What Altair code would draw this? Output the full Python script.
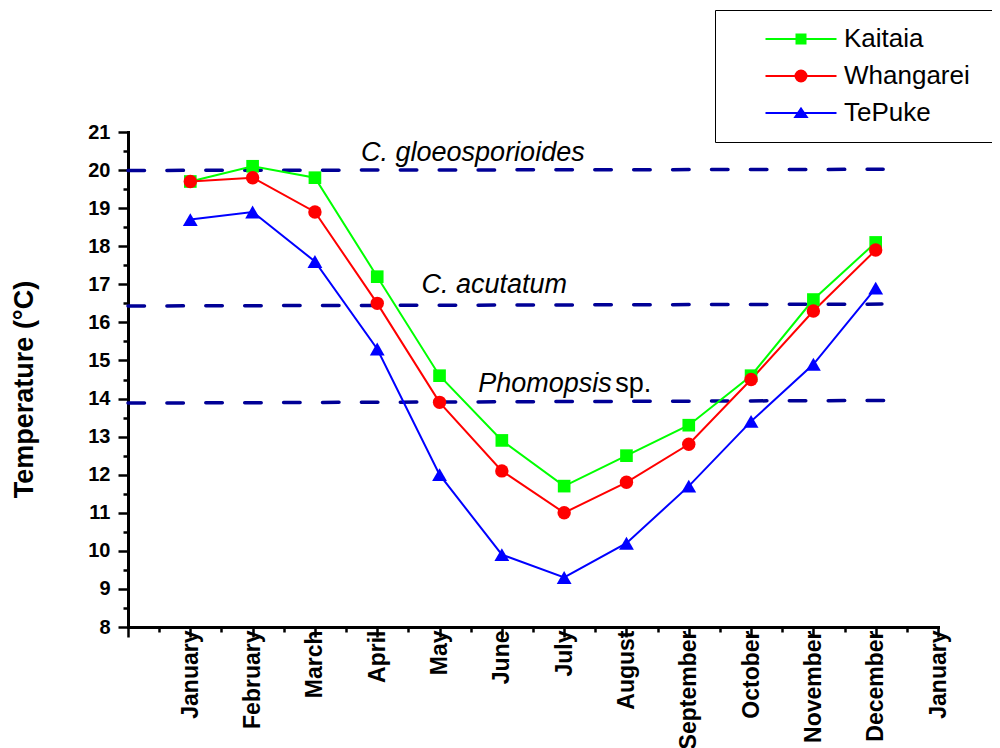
import altair as alt
import pandas as pd

# ---------------- data ----------------
months = ["January", "February", "March", "April", "May", "June", "July",
          "August", "September", "October", "November", "December"]
month_index = [1, 2, 3, 4, 5, 6, 7, 8, 9, 10, 11, 12]

kaitaia = [19.7, 20.1, 19.8, 17.2, 14.6, 12.9, 11.7, 12.5, 13.3, 14.6, 16.6, 18.1]
whangarei = [19.7, 19.8, 18.9, 16.5, 13.9, 12.1, 11.0, 11.8, 12.8, 14.5, 16.3, 17.9]
tepuke = [18.7, 18.9, 17.6, 15.3, 12.0, 9.9, 9.3, 10.2, 11.7, 13.4, 14.9, 16.9]

series_names = ["Kaitaia", "Whangarei", "TePuke"]
series_colors = ["#00FF00", "#FF0000", "#0000FF"]
series_shapes = ["square", "circle", "triangle-up"]
series_sizes = [160, 180, 220]

# pathogen temperature thresholds (dashed lines)
thr_start_x = [0, 0, 0]
thr_end_x = [12.12, 12.1, 12.15]
thr_start_y = [19.99, 16.43, 13.88]
thr_end_y = [20.02, 16.48, 13.95]

# annotations
italic_labels = ["C. gloeosporioides", "C. acutatum", "Phomopsis"]
italic_x = [3.74, 4.71, 5.62]
italic_y = [20.25, 16.78, 14.18]
plain_labels = ["sp."]
plain_x = [7.82]
plain_y = [14.18]

# ---------------- tables ----------------
rows = []
for name, vals in zip(series_names, [kaitaia, whangarei, tepuke]):
    for m, v in zip(month_index, vals):
        rows.append({"x": m, "y": v, "series": name})
df = pd.DataFrame(rows)

thr_df = pd.DataFrame({"x": thr_start_x, "x2": thr_end_x,
                       "y": thr_start_y, "y2": thr_end_y})
ital_df = pd.DataFrame({"x": italic_x, "y": italic_y, "text": italic_labels})
plain_df = pd.DataFrame({"x": plain_x, "y": plain_y, "text": plain_labels})
legend_df = pd.DataFrame({"series": series_names})

FONT = "Liberation Sans"

month_js = "[" + ",".join("'" + m + "'" for m in months) + "]"
x_label_expr = ("(datum.value % 1 === 0 && datum.value > 0) ? " + month_js
                + "[(datum.value - 1) % 12] : ''")
x_axis = alt.Axis(
    title=None,
    values=[0.5 * i for i in range(27)],
    labelExpr=x_label_expr,
    labelAngle=-90, labelAlign="right", labelBaseline="middle",
    labelPadding=-7, labelFont=FONT, labelFontSize=23, labelFontWeight="bold",
    labelColor="black", labelFlush=False, labelOverlap=False,
    tickSize={"expr": "datum.value % 1 === 0 ? 10 : 5"},
    tickWidth=2.5, tickColor="black",
    domainWidth=3, domainColor="black", domainCap="square",
    grid=False,
)
y_axis = alt.Axis(
    title="Temperature (°C)",
    values=[8 + 0.5 * i for i in range(27)],
    format=".0f",
    labelExpr="datum.value % 1 === 0 ? datum.label : ''",
    labelPadding=8, labelFont=FONT, labelFontSize=20, labelFontWeight="bold",
    labelColor="black", labelFlush=False, labelOverlap=False,
    tickSize={"expr": "datum.value % 1 === 0 ? 10 : 5"},
    tickWidth=2.5, tickColor="black",
    domainWidth=3, domainColor="black", domainCap="square",
    grid=False,
    titleFont=FONT, titleFontSize=27, titleFontWeight="bold", titleColor="black",
    titleAngle=270, titleBaseline="alphabetic", titleAlign="center",
    titleX=-96, titleY=257,
)

X = alt.X("x:Q", scale=alt.Scale(domain=[0, 13], nice=False, zero=False), axis=x_axis)
Y = alt.Y("y:Q", scale=alt.Scale(domain=[8, 21], nice=False, zero=False), axis=y_axis)

color_scale = alt.Scale(domain=series_names, range=series_colors)

rules = alt.Chart(thr_df).mark_rule(
    strokeDash=[16.5, 22.4], strokeWidth=3.5, strokeCap="round", color="#000096"
).encode(x=X, x2="x2:Q", y=Y, y2="y2:Q")

lines = alt.Chart(df).mark_line(strokeWidth=2).encode(
    x=X, y=Y,
    color=alt.Color("series:N", scale=color_scale, legend=None),
    order=alt.Order("x:Q"),
)

point_layers = []
for name, shp, sz in zip(series_names, series_shapes, series_sizes):
    point_layers.append(
        alt.Chart(df).transform_filter(alt.datum.series == name).mark_point(
            filled=True, opacity=1, shape=shp, size=sz
        ).encode(
            x=X, y=Y,
            color=alt.Color("series:N", scale=color_scale, legend=None),
        )
    )

ital_text = alt.Chart(ital_df).mark_text(
    font=FONT, fontSize=27, fontStyle="italic", align="left", baseline="alphabetic", color="black"
).encode(x=X, y=Y, text="text:N")

plain_text = alt.Chart(plain_df).mark_text(
    font=FONT, fontSize=27, align="left", baseline="alphabetic", color="black"
).encode(x=X, y=Y, text="text:N")


# legend symbols: a line through a marker; markers are filled by nested strokes
def sq(h):
    return "M%s,%sH%sV%sH%sZ" % (-h, -h, h, h, -h)


def circ(r):
    return "M%s,0A%s,%s,0,1,1,%s,0A%s,%s,0,1,1,%s,0Z" % (r, r, r, -r, r, r, r)


def tri(s):
    cy = 0.23
    return "M0,%sL%s,%sH%sZ" % (round(cy - 1.13 * s, 3), round(1.15 * s, 3),
                                 round(cy + 0.57 * s, 3), round(-1.15 * s, 3))


LINE = "M-7.1,0H7.1"
legend_paths = [
    LINE + sq(0.9) + sq(0.55) + sq(0.2),
    LINE + circ(1.1) + circ(0.75) + circ(0.4) + circ(0.1),
    LINE + tri(1.0) + tri(0.6) + tri(0.25),
]
PAD_CHARS = "\u2800" * 6   # blank glyphs that widen the legend frame past the page edge
leg = alt.Legend(
    title=None, orient="none", legendX=587, legendY=-122,
    padding=16, rowPadding=11, strokeColor="black",
    symbolSize=100, symbolStrokeWidth=2, symbolOffset=57, labelOffset=30,
    labelFont=FONT, labelFontSize=26, labelColor="black", labelLimit=600,
    labelExpr="datum.label + '" + PAD_CHARS + "'",
)
legend_layer = alt.Chart(legend_df).transform_filter("false").mark_point(
    filled=False, size=100, strokeWidth=2, opacity=1
).encode(
    color=alt.Color("series:N", scale=color_scale, legend=leg),
    shape=alt.Shape("series:N", scale=alt.Scale(domain=series_names, range=legend_paths), legend=leg),
)

chart = alt.layer(legend_layer, rules, lines, *point_layers, ital_text, plain_text).properties(
    width=810, height=495,
    autosize=alt.AutoSizeParams(type="none"),
    padding={"left": 120, "top": 124, "right": 54, "bottom": 121},
    background="white",
).configure_view(stroke=None)

chart.save("out.html", embed_options={"renderer": "svg", "actions": False})
